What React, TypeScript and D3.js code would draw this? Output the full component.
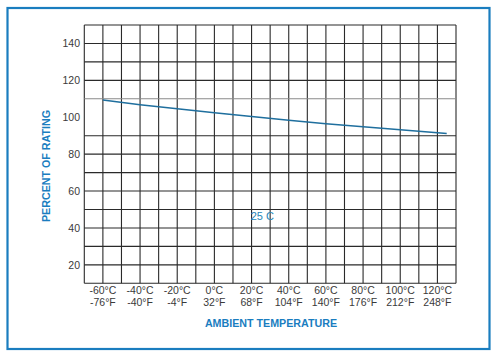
import React from "react";
import * as d3 from "d3";

const temps = [-60, -40, -20, 0, 20, 40, 60, 80, 100, 120, 125];
const rating = [109.3, 106.8, 104.6, 102.4, 100.4, 98.4, 96.5, 94.8, 93.2, 91.6, 91.2];
const xTicksC = ["-60°C", "-40°C", "-20°C", "0°C", "20°C", "40°C", "60°C", "80°C", "100°C", "120°C"];
const xTicksF = ["-76°F", "-40°F", "-4°F", "32°F", "68°F", "104°F", "140°F", "176°F", "212°F", "248°F"];
const xTickVals = [-60, -40, -20, 0, 20, 40, 60, 80, 100, 120];
const yTickVals = [20, 40, 60, 80, 100, 120, 140];
const curveLabel = "25 C";

export default function App() {
  const W = 495, H = 354;
  const x = d3.scaleLinear().domain([-70, 130]).range([84.3, 456]);
  const y = d3.scaleLinear().domain([10, 150]).range([283.3, 25]);
  const vGrid = d3.range(-70, 131, 10);
  const hGrid = d3.range(10, 151, 10).filter((v) => v !== 100);
  const line = d3.line<number>().x((_, i) => x(temps[i])).y((d) => y(d));
  const blue = "#1a7dbf";
  const font = "Liberation Sans, Arial, sans-serif";
  return (
    <svg width={W} height={H} style={{ position: "absolute", left: 0, top: 0 }}>
      <rect x={0} y={0} width={W} height={H} fill="#fff" />
      <rect x={7.5} y={8} width={482} height={341} fill="none" stroke={blue} strokeWidth={2.2} />
      {vGrid.map((v) => (
        <line key={"v" + v} x1={x(v)} x2={x(v)} y1={y(150)} y2={y(10)} stroke="#2a2a2a" strokeWidth={1.1} />
      ))}
      {hGrid.map((v) => (
        <line key={"h" + v} x1={x(-70)} x2={x(130)} y1={y(v)} y2={y(v)}
          stroke={v === 110 ? "#8a8a8a" : "#2a2a2a"} strokeWidth={1.1} />
      ))}
      <path d={line(rating) || ""} fill="none" stroke="#1f6f9e" strokeWidth={1.5} />
      <text x={x(25) + 1.5} y={y(40) - 7.5} textAnchor="middle" fontFamily={font} fontSize={11} fill="#2a86b8">{curveLabel}</text>
      {yTickVals.map((v) => (
        <text key={"yt" + v} x={80} y={y(v) + 3.8} textAnchor="end" fontFamily={font} fontSize={10.5} fill="#3a3a3a">{v}</text>
      ))}
      {xTickVals.map((v, i) => (
        <g key={"xt" + v}>
          <text x={x(v)} y={293.5} textAnchor="middle" fontFamily={font} fontSize={10.5} fill="#3a3a3a">{xTicksC[i]}</text>
          <text x={x(v)} y={306} textAnchor="middle" fontFamily={font} fontSize={10.5} fill="#3a3a3a">{xTicksF[i]}</text>
        </g>
      ))}
      <text x={271} y={327} textAnchor="middle" fontFamily={font} fontSize={10.7} fontWeight="bold" fill={blue}>AMBIENT TEMPERATURE</text>
      <text transform="translate(50,166) rotate(-90)" textAnchor="middle" fontFamily={font} fontSize={10.7} fontWeight="bold" fill={blue}>PERCENT OF RATING</text>
    </svg>
  );
}
